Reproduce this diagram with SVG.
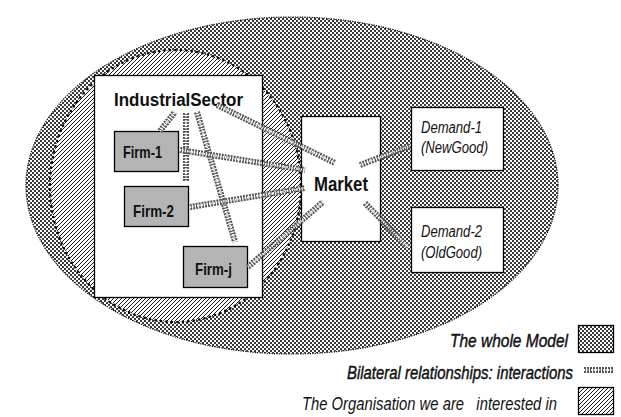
<svg xmlns="http://www.w3.org/2000/svg" xmlns:xlink="http://www.w3.org/1999/xlink" width="621" height="417" viewBox="0 0 621 417">
<defs>
  <pattern id="checker" patternUnits="userSpaceOnUse" width="4" height="4">
    <rect width="4" height="4" fill="#fff"/>
    <rect width="2" height="2" fill="#3a3a3a"/>
    <rect x="2" y="2" width="2" height="2" fill="#3a3a3a"/>
  </pattern>
  <pattern id="hatch" patternUnits="userSpaceOnUse" width="4" height="4">
    <rect width="4" height="4" fill="#fff"/>
    <path d="M-1,1 L1,-1 M0,4 L4,0 M3,5 L5,3" stroke="#000" stroke-width="0.9"/>
  </pattern>
  <line id="c1" x1="160" y1="131" x2="175" y2="112"/>
  <line id="c2" x1="186" y1="113" x2="186" y2="182"/>
  <line id="c3" x1="197" y1="112" x2="235" y2="242"/>
  <line id="c4" x1="217" y1="105" x2="335" y2="163"/>
  <line id="c5" x1="180" y1="150" x2="305" y2="170"/>
  <line id="c6" x1="190" y1="207" x2="305" y2="188"/>
  <line id="c7" x1="248" y1="267" x2="323" y2="202"/>
  <line id="c8" x1="360" y1="165" x2="410" y2="146"/>
  <line id="c9" x1="365" y1="203" x2="408" y2="247"/>
</defs>
<style>
  .box { stroke: #000; stroke-width: 1.3; }
  .white { fill: #fff; }
  .firm { fill: #b4b4b4; }
  .lbl { font-family: "Liberation Sans", Arial, sans-serif; font-weight: bold; fill: #111; }
  .dem { font-family: "Liberation Sans", Arial, sans-serif; font-style: italic; font-size: 16px; fill: #111; }
  .leg { font-family: "Liberation Sans", Arial, sans-serif; font-style: italic; font-size: 19px; fill: #111; }
  .heavy { stroke: #111; stroke-width: 0.45; }
  .bandO { stroke: #555; stroke-width: 6; stroke-dasharray: 2 1; fill: none; }
  .bandI { stroke: #fff; stroke-width: 2.2; stroke-dasharray: 1.2 1.2; fill: none; }
</style>

<g id="whole-model">
  <ellipse cx="292" cy="185.5" rx="266" ry="168.5" fill="url(#checker)" stroke="#000" stroke-width="1.2" stroke-dasharray="1.2 1.2"/>
</g>
<g id="organisation">
  <ellipse cx="175.5" cy="186" rx="125.5" ry="136" fill="url(#hatch)" stroke="#000" stroke-width="2.6" stroke-linecap="round" stroke-dasharray="0 5.5"/>
</g>

<g id="industrial-sector">
  <rect class="box white" x="94.5" y="75.5" width="168" height="222"/>
  <text class="lbl" x="114" y="106" font-size="18" textLength="129" lengthAdjust="spacingAndGlyphs">IndustrialSector</text>
</g>
<g id="firm-1">
  <rect class="box firm" x="114.5" y="131.5" width="64" height="40"/>
  <text class="lbl" x="123" y="158" font-size="17" textLength="39" lengthAdjust="spacingAndGlyphs">Firm-1</text>
</g>
<g id="firm-2">
  <rect class="box firm" x="124.5" y="186.5" width="64" height="40"/>
  <text class="lbl" x="133" y="217" font-size="17" textLength="41" lengthAdjust="spacingAndGlyphs">Firm-2</text>
</g>
<g id="firm-j">
  <rect class="box firm" x="183.5" y="246.5" width="64" height="41"/>
  <text class="lbl" x="195" y="275" font-size="17" textLength="37" lengthAdjust="spacingAndGlyphs">Firm-j</text>
</g>
<g id="market">
  <rect class="box white" x="301.5" y="116.5" width="79" height="125"/>
</g>
<g id="demand-1">
  <rect class="box white" x="411.5" y="107.5" width="92" height="63"/>
  <text class="dem" x="421" y="133" textLength="61" lengthAdjust="spacingAndGlyphs">Demand-1</text>
  <text class="dem" x="421" y="153" textLength="67" lengthAdjust="spacingAndGlyphs">(NewGood)</text>
</g>
<g id="demand-2">
  <rect class="box white" x="411.5" y="207.5" width="92" height="65"/>
  <text class="dem" x="421" y="237" textLength="61" lengthAdjust="spacingAndGlyphs">Demand-2</text>
  <text class="dem" x="421" y="258" textLength="61" lengthAdjust="spacingAndGlyphs">(OldGood)</text>
</g>

<g id="connectors">
  <use xlink:href="#c1" class="bandO"/><use xlink:href="#c1" class="bandI"/>
  <use xlink:href="#c2" class="bandO"/><use xlink:href="#c2" class="bandI"/>
  <use xlink:href="#c3" class="bandO"/><use xlink:href="#c3" class="bandI"/>
  <use xlink:href="#c4" class="bandO"/><use xlink:href="#c4" class="bandI"/>
  <use xlink:href="#c5" class="bandO"/><use xlink:href="#c5" class="bandI"/>
  <use xlink:href="#c6" class="bandO"/><use xlink:href="#c6" class="bandI"/>
  <use xlink:href="#c7" class="bandO"/><use xlink:href="#c7" class="bandI"/>
  <use xlink:href="#c8" class="bandO"/><use xlink:href="#c8" class="bandI"/>
  <use xlink:href="#c9" class="bandO"/><use xlink:href="#c9" class="bandI"/>
</g>

<g id="market-label">
  <text class="lbl" x="314" y="191" font-size="20" textLength="54" lengthAdjust="spacingAndGlyphs">Market</text>
</g>

<g id="legend">
  <text class="leg heavy" x="568" y="347" text-anchor="end" textLength="118" lengthAdjust="spacingAndGlyphs">The whole Model</text>
  <rect class="box" x="578.5" y="325.5" width="35" height="27" fill="url(#checker)"/>
  <text class="leg heavy" transform="scale(0.78,1)" x="444.9" y="379" textLength="289.7" lengthAdjust="spacingAndGlyphs">Bilateral relationships: interactions</text>
  <line x1="584" y1="370" x2="614" y2="370" class="bandO" stroke-width="4"/>
  <line x1="584" y1="370" x2="614" y2="370" class="bandI" stroke-width="1.4"/>
  <text class="leg" transform="scale(0.78,1)" x="387.2" y="410" fill="#222" textLength="326.9" lengthAdjust="spacingAndGlyphs" xml:space="preserve">The Organisation we are   interested in</text>
  <rect class="box" x="578.5" y="387.5" width="35" height="27" fill="url(#hatch)"/>
</g>
</svg>
